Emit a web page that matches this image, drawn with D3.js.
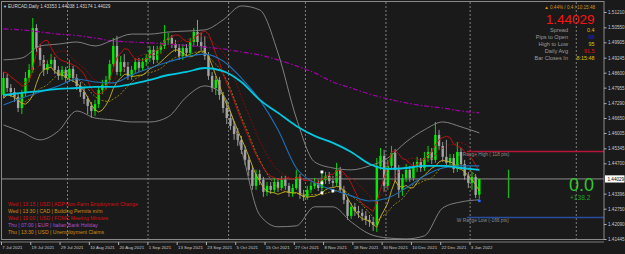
<!DOCTYPE html>
<html><head><meta charset="utf-8">
<script src="https://cdn.jsdelivr.net/npm/d3@7"></script>
<style>html,body{margin:0;padding:0;background:#1a1a1a;overflow:hidden}svg{display:block}text{font-family:"Liberation Sans",Arial,sans-serif}</style>
</head><body><svg id="c" width="625" height="254"></svg>
<script>
// ---------- DATA (EURCAD, Daily, 7 Jul 2021 – 5 Jan 2022) ----------
const opens = [1.4764,1.4837,1.4794,1.4777,1.4756,1.4708,1.4773,1.4837,1.4872,1.5052,
1.4966,1.4915,1.4872,1.4897,1.4915,1.4872,1.4846,1.4872,1.4837,1.4876,
1.4837,1.4803,1.4777,1.4747,1.4717,1.4695,1.4725,1.4786,1.4807,1.4829,
1.4897,1.4975,1.4863,1.4906,1.4885,1.4846,1.4872,1.4906,1.4880,1.4906,
1.4923,1.4958,1.4915,1.4958,1.4975,1.5001,1.5009,1.4983,1.4966,1.4932,
1.4966,1.4945,1.4992,1.5035,1.4992,1.4975,1.4932,1.4846,1.4794,1.4829,
1.4764,1.4708,1.4665,1.4631,1.4596,1.4571,1.4528,1.4485,1.4442,1.4373,
1.4424,1.4399,1.4347,1.4373,1.4356,1.4390,1.4364,1.4399,1.4373,1.4343,
1.4364,1.4412,1.4334,1.4326,1.4356,1.4373,1.4386,1.4364,1.4399,1.4416,
1.4394,1.4386,1.4442,1.4356,1.4313,1.4244,1.4283,1.4265,1.4257,1.4244,
1.4227,1.4218,1.4205,1.4459,1.4502,1.4373,1.4459,1.4515,1.4442,1.4356,
1.4407,1.4442,1.4407,1.4459,1.4476,1.4450,1.4493,1.4519,1.4485,1.4592,
1.4545,1.4498,1.4472,1.4493,1.4446,1.4519,1.4467,1.4416,1.4386,1.4412,
1.43353];
const highs = [1.4863,1.4854,1.4811,1.4794,1.4768,1.4786,1.4863,1.4897,1.5095,1.5069,
1.4983,1.4936,1.4915,1.4940,1.4928,1.4889,1.4889,1.4885,1.4915,1.4889,
1.4854,1.4820,1.4794,1.4760,1.4734,1.4743,1.4803,1.4829,1.4846,1.4915,
1.5009,1.5018,1.4932,1.4940,1.4906,1.4889,1.4923,1.4923,1.4923,1.4940,
1.4975,1.4975,1.4975,1.4992,1.5065,1.5031,1.5022,1.5001,1.4983,1.4983,
1.4983,1.5009,1.5052,1.5087,1.5031,1.5018,1.4949,1.4863,1.4846,1.4842,
1.4777,1.4743,1.4682,1.4652,1.4622,1.4588,1.4545,1.4502,1.4459,1.4442,
1.4442,1.4412,1.4390,1.4390,1.4407,1.4407,1.4416,1.4416,1.4386,1.4381,
1.4442,1.4424,1.4356,1.4373,1.4390,1.4407,1.4399,1.4433,1.4433,1.4433,
1.4416,1.4472,1.4455,1.4373,1.4326,1.4300,1.4300,1.4287,1.4274,1.4265,
1.4248,1.4240,1.4493,1.4536,1.4528,1.4485,1.4545,1.4532,1.4463,1.4424,
1.4467,1.4459,1.4476,1.4498,1.4493,1.4519,1.4545,1.4536,1.4648,1.4614,
1.4562,1.4571,1.4510,1.4510,1.4562,1.4536,1.4485,1.4433,1.4433,1.4424,
1.44038];
const lows = [1.4751,1.4777,1.4756,1.4734,1.4691,1.4682,1.4760,1.4820,1.4859,1.4949,
1.4889,1.4846,1.4854,1.4880,1.4854,1.4829,1.4829,1.4820,1.4820,1.4820,
1.4786,1.4756,1.4725,1.4682,1.4665,1.4674,1.4708,1.4768,1.4786,1.4816,
1.4885,1.4850,1.4846,1.4863,1.4829,1.4829,1.4859,1.4863,1.4867,1.4889,
1.4906,1.4897,1.4902,1.4940,1.4962,1.4979,1.4966,1.4949,1.4915,1.4915,
1.4928,1.4932,1.4975,1.4975,1.4958,1.4915,1.4829,1.4777,1.4764,1.4743,
1.4687,1.4639,1.4614,1.4571,1.4545,1.4510,1.4463,1.4416,1.4356,1.4356,
1.4377,1.4326,1.4330,1.4338,1.4343,1.4347,1.4356,1.4356,1.4326,1.4326,
1.4356,1.4317,1.4308,1.4313,1.4343,1.4360,1.4351,1.4347,1.4381,1.4381,
1.4369,1.4373,1.4343,1.4295,1.4227,1.4231,1.4244,1.4235,1.4222,1.4205,
1.4197,1.4179,1.4175,1.4442,1.4347,1.4356,1.4442,1.4390,1.4321,1.4330,
1.4390,1.4390,1.4394,1.4433,1.4433,1.4437,1.4476,1.4467,1.4472,1.4528,
1.4476,1.4450,1.4459,1.4429,1.4433,1.4450,1.4399,1.4364,1.4356,1.4321,
1.43174];
const closes = [1.4837,1.4794,1.4777,1.4756,1.4708,1.4773,1.4837,1.4872,1.5052,1.4966,
1.4915,1.4872,1.4897,1.4915,1.4872,1.4846,1.4872,1.4837,1.4876,1.4837,
1.4803,1.4777,1.4747,1.4717,1.4695,1.4725,1.4786,1.4807,1.4829,1.4897,
1.4975,1.4863,1.4906,1.4885,1.4846,1.4872,1.4906,1.4880,1.4906,1.4923,
1.4958,1.4915,1.4958,1.4975,1.5001,1.5009,1.4983,1.4966,1.4932,1.4966,
1.4945,1.4992,1.5035,1.4992,1.4975,1.4932,1.4846,1.4794,1.4829,1.4764,
1.4708,1.4665,1.4631,1.4596,1.4571,1.4528,1.4485,1.4442,1.4373,1.4424,
1.4399,1.4347,1.4373,1.4356,1.4390,1.4364,1.4399,1.4373,1.4343,1.4364,
1.4412,1.4334,1.4326,1.4356,1.4373,1.4386,1.4364,1.4399,1.4416,1.4394,
1.4386,1.4442,1.4356,1.4313,1.4244,1.4283,1.4265,1.4257,1.4244,1.4227,
1.4218,1.4205,1.4459,1.4502,1.4373,1.4459,1.4515,1.4442,1.4356,1.4407,
1.4442,1.4407,1.4459,1.4476,1.4450,1.4493,1.4519,1.4485,1.4592,1.4545,
1.4498,1.4472,1.4493,1.4446,1.4519,1.4467,1.4416,1.4386,1.4412,1.4334,
1.44029];

const indBars   = [0,5,10,15,20,25,30,35,40,45,50,55,60,65,70,75,80,85,90,95,100,105,110,115,120,125,130];
const bbUpper   = [1.4915,1.4923,1.4975,1.4983,1.4992,1.4975,1.5001,1.5026,1.5026,1.5035,1.5039,1.5044,1.5087,1.5147,1.5130,1.4945,1.4665,1.4476,1.4450,1.4442,1.4459,1.4493,1.4562,1.4614,1.4648,1.4627,1.4601];
const bbLower   = [1.4635,1.4605,1.4571,1.4609,1.4695,1.4665,1.4657,1.4648,1.4648,1.4670,1.4756,1.4803,1.4764,1.4528,1.4248,1.4197,1.4201,1.4283,1.4283,1.4218,1.4166,1.4149,1.4145,1.4158,1.4278,1.4304,1.4313];
const maCyan    = [1.4764,1.4773,1.4781,1.4790,1.4794,1.4799,1.4799,1.4811,1.4829,1.4850,1.4863,1.4880,1.4867,1.4820,1.4743,1.4687,1.4631,1.4588,1.4558,1.4519,1.4467,1.4446,1.4450,1.4459,1.4459,1.4450,1.4442];
const maBlue    = [1.4721,1.4751,1.4777,1.4803,1.4833,1.4820,1.4816,1.4850,1.4880,1.4906,1.4928,1.4940,1.4910,1.4837,1.4743,1.4614,1.4450,1.4386,1.4356,1.4330,1.4308,1.4321,1.4364,1.4416,1.4450,1.4459,1.4459];
const maMagenta = [1.5048,1.5044,1.5035,1.5026,1.5020,1.5009,1.4996,1.4992,1.4988,1.4983,1.4977,1.4970,1.4962,1.4949,1.4936,1.4915,1.4889,1.4859,1.4820,1.4794,1.4768,1.4747,1.4730,1.4717,1.4708,1.4695,1.4687];

const dateLabels = ["7 Jul 2021","19 Jul 2021","29 Jul 2021","10 Aug 2021","20 Aug 2021","1 Sep 2021","13 Sep 2021","23 Sep 2021","5 Oct 2021","15 Oct 2021","27 Oct 2021","8 Nov 2021","18 Nov 2021","30 Nov 2021","10 Dec 2021","22 Dec 2021","3 Jan 2022"];
const dateLabelBars = [0,8,16,24,32,40,48,56,64,72,80,88,96,104,112,120,128];
const separatorBars = [18,40,62,83,105,128,157];
const priceTicks = [1.51210,1.50550,1.49905,1.49245,1.48600,1.47955,1.47290,1.46650,1.46005,1.45345,1.44700,1.43396,1.42750,1.42090,1.41445];

const markerBars = [87,87,87,90];
const markerPrices = [1.4433,1.4386,1.4343,1.4351];
const projBar = 138, projHigh = 1.4442, projLow = 1.4321;
const rangeHigh = 1.4521, rangeLow = 1.4237, rangeStartBar = 126.6;
const rangeHighText = "W Range High ( 118 pts)", rangeLowText = "W Range Low (-166 pts)";

const symbolTitle = "EURCAD,Daily  1.43353 1.44038 1.43174 1.44029";
const infoTop = "▲ 0.44% / 0.4 / 10:15:48";
const bidText = "1.44029";
const infoLabels = ["Spread","Pips to Open","High to Low","Daily Avg","Bar Closes In"];
const infoValues = ["0.4","68","95","91.5","8:15:48"];
const infoKinds = ["y","b","y","r","y"];
const bigPips = "0.0", pipsSub = "+138.2";

const evDays = ["Wed","Wed","Wed","Thu","Thu"];
const evTimes = ["13:15","13:30","19:00","07:00","13:30"];
const evCur = ["USD","CAD","USD","EUR","USD"];
const evTitles = ["ADP Non-Farm Employment Change","Building Permits m/m","FOMC Meeting Minutes","Italian Bank Holiday","Unemployment Claims"];
const evImpact = ["high","medium","high","holiday","medium"];

// ---------- DRAW ----------
const W=625,H=254;
const svg=d3.select('#c');
svg.append('rect').attr('width',W).attr('height',H).attr('fill','#1a1a1a');
const x=d3.scaleLinear().domain([0,130]).range([3.5,479.3]);
const y=d3.scaleLinear().domain([1.41445,1.51210]).range([239,12]);
const step = x(1)-x(0);

svg.append('clipPath').attr('id','clip').append('rect').attr('x',1.5).attr('y',1.5).attr('width',602.5).attr('height',238);
const plot=svg.append('g').attr('clip-path','url(#clip)');

// separators
plot.selectAll('line.sep').data(separatorBars).join('line')
  .attr('x1',d=>x(d)-step/2).attr('x2',d=>x(d)-step/2).attr('y1',2).attr('y2',239)
  .attr('stroke','#9a9a9a').attr('stroke-width',0.8).attr('stroke-dasharray','2,2');

// current price line
plot.append('line').attr('x1',1).attr('x2',604).attr('y1',y(closes[closes.length-1])).attr('y2',y(closes[closes.length-1]))
  .attr('stroke','#8c8c8c').attr('stroke-width',1);

// range lines
plot.append('line').attr('x1',x(rangeStartBar)).attr('x2',604).attr('y1',y(rangeHigh)).attr('y2',y(rangeHigh)).attr('stroke','#b4163c').attr('stroke-width',1.6);
plot.append('line').attr('x1',x(rangeStartBar)).attr('x2',604).attr('y1',y(rangeLow)).attr('y2',y(rangeLow)).attr('stroke','#2a4c9c').attr('stroke-width',1.6);
plot.append('text').attr('x',x(rangeStartBar)-10).attr('y',y(rangeHigh)+5).attr('font-size',4.8).attr('fill','#8a8a8a').text(rangeHighText);
plot.append('text').attr('x',x(rangeStartBar)-10).attr('y',y(rangeLow)+5).attr('font-size',4.8).attr('fill','#8a8a8a').text(rangeLowText);

// candles
const bull='#00ee00', bear='#a4a4a4';
const idx=d3.range(closes.length);
const cg=plot.append('g');
cg.selectAll('line').data(idx).join('line')
  .attr('x1',i=>x(i)).attr('x2',i=>x(i)).attr('y1',i=>y(highs[i])).attr('y2',i=>y(lows[i]))
  .attr('stroke',i=>closes[i]>=opens[i]?bull:bear).attr('stroke-width',0.9);
cg.selectAll('rect').data(idx).join('rect')
  .attr('x',i=>x(i)-1.2).attr('width',2.4)
  .attr('y',i=>y(Math.max(opens[i],closes[i])))
  .attr('height',i=>Math.max(0.8,Math.abs(y(opens[i])-y(closes[i]))))
  .attr('fill',i=>closes[i]>=opens[i]?bull:bear);

// projection bar
plot.append('line').attr('x1',x(projBar)).attr('x2',x(projBar)).attr('y1',y(projHigh)).attr('y2',y(projLow)).attr('stroke','#22b022').attr('stroke-width',1.4);

// indicators
const sparse=d3.line().x((d,k)=>x(indBars[k])).y(d=>y(d)).curve(d3.curveMonotoneX);
const full=d3.line().x((d,i)=>x(i)).y(d=>y(d));
function sma(a,n){return a.map((_,i)=>d3.mean(a.slice(Math.max(0,i-n+1),i+1)));}

plot.append('path').attr('d',sparse(maMagenta)).attr('fill','none').attr('stroke','#a000a8').attr('stroke-width',1.2).attr('stroke-dasharray','5,2,1.5,2');
plot.append('path').attr('d',sparse(bbUpper)).attr('fill','none').attr('stroke','#8a8a8a').attr('stroke-width',0.9);
plot.append('path').attr('d',sparse(bbLower)).attr('fill','none').attr('stroke','#8a8a8a').attr('stroke-width',0.9);
plot.append('path').attr('d',full(sma(lows,10))).attr('fill','none').attr('stroke','#9c8a10').attr('stroke-width',0.9).attr('stroke-dasharray','2,1.5');
plot.append('path').attr('d',full(sma(lows,5))).attr('fill','none').attr('stroke','#c8b418').attr('stroke-width',0.9);
plot.append('path').attr('d',full(sma(highs,10))).attr('fill','none').attr('stroke','#8c0c0c').attr('stroke-width',0.9).attr('stroke-dasharray','2,1.5');
plot.append('path').attr('d',full(sma(highs,5))).attr('fill','none').attr('stroke','#cc1010').attr('stroke-width',0.9);
plot.append('path').attr('d',sparse(maBlue)).attr('fill','none').attr('stroke','#1e70b8').attr('stroke-width',1.1);
plot.append('path').attr('d',sparse(maCyan)).attr('fill','none').attr('stroke','#00c8e0').attr('stroke-width',1.8);

// markers
plot.selectAll('rect.mk').data(markerBars).join('rect')
  .attr('x',d=>x(d)-1.4).attr('y',(d,k)=>y(markerPrices[k])-1.4).attr('width',2.8).attr('height',2.8).attr('fill','#ffffff');
plot.append('circle').attr('cx',x(130)).attr('cy',y(lows[130])+2).attr('r',1.5).attr('fill','#2a6aff');

// frame
svg.append('rect').attr('x',1.5).attr('y',1.5).attr('width',602.5).attr('height',238).attr('fill','none').attr('stroke','#8a8a8a').attr('stroke-width',1);
svg.append('line').attr('x1',0).attr('x2',604).attr('y1',242).attr('y2',242).attr('stroke','#7a7a7a').attr('stroke-width',1);

// right axis
const ay=svg.append('g').attr('transform','translate(604,0)')
  .call(d3.axisRight(y).tickValues(priceTicks).tickFormat(d3.format('.5f')).tickSize(2.5).tickPadding(1.5));
ay.select('.domain').remove();
ay.selectAll('line').attr('stroke','#b0b0b0');
ay.selectAll('text').attr('fill','#c8c8c8').attr('font-size',4.6).attr('font-family','Liberation Sans, Arial, sans-serif');
// bid box
const yb=y(closes[closes.length-1]);
svg.append('rect').attr('x',605).attr('y',yb-3.6).attr('width',19.5).attr('height',7.2).attr('fill','#ffffff');
svg.append('text').attr('x',607.5).attr('y',yb+1.7).attr('font-size',4.6).attr('fill','#000').text(bidText);

// bottom axis
const ax=svg.append('g').attr('transform','translate(0,242)')
  .call(d3.axisBottom(x).tickValues(dateLabelBars).tickFormat((d,k)=>dateLabels[k]).tickSize(3));
ax.select('.domain').remove();
ax.selectAll('.tick').attr('transform',d=>`translate(${x(d)-2},0)`);
ax.selectAll('line').attr('stroke','#b0b0b0');
ax.selectAll('text').attr('fill','#c8c8c8').attr('font-size',4.4).attr('text-anchor','start').attr('x',0.8).attr('y',3.5).attr('dy','0.71em').attr('font-family','Liberation Sans, Arial, sans-serif');

// title
svg.append('text').attr('x',3).attr('y',7.6).attr('font-size',4).attr('fill','#d8d8d8').text('▼');
svg.append('text').attr('x',8).attr('y',7.6).attr('font-size',4.6).attr('fill','#d8d8d8').text(symbolTitle);

// info panel
svg.append('text').attr('x',595).attr('y',9).attr('text-anchor','end').attr('font-size',4.6).attr('fill','#d89020').text(infoTop);
svg.append('text').attr('x',594.5).attr('y',24).attr('text-anchor','end').attr('font-size',13.5).attr('fill','#ff1010').text(bidText);
const kindColor={y:'#e0c000',b:'#1a1ae0',r:'#e01010'};
svg.selectAll('text.il').data(infoLabels).join('text').attr('x',568).attr('y',(d,k)=>31.5+k*7.2).attr('text-anchor','end').attr('font-size',5.6).attr('fill','#9a9a9a').text(d=>d);
svg.selectAll('text.iv').data(infoValues).join('text').attr('x',594.5).attr('y',(d,k)=>31.5+k*7.2).attr('text-anchor','end').attr('font-size',5.4).attr('fill',(d,k)=>kindColor[infoKinds[k]]).text(d=>d);

svg.append('text').attr('x',594).attr('y',190.5).attr('text-anchor','end').attr('font-size',18).attr('fill','#2ec82e').text(bigPips);
svg.append('text').attr('x',570).attr('y',200).attr('font-size',6.6).attr('fill','#22a022').text(pipsSub);

// events
const impactColor={high:'#d41010',medium:'#d88a10',holiday:'#b050d0'};
svg.selectAll('text.ev').data(evTitles).join('text').attr('x',8).attr('y',(d,k)=>206+k*7).attr('font-size',5.1)
  .attr('fill',(d,k)=>impactColor[evImpact[k]])
  .text((d,k)=>`${evDays[k]} | ${evTimes[k]} | ${evCur[k]} | ${d}`);
</script>
</body></html>
